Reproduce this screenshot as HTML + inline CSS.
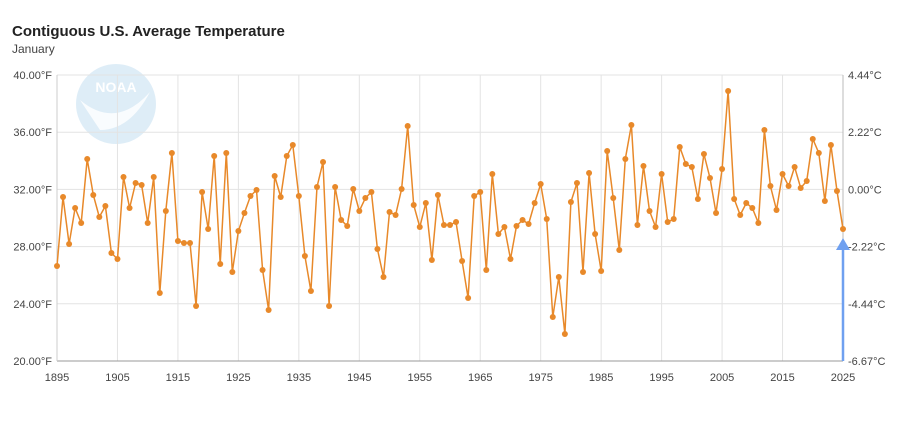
<!DOCTYPE html>
<html><head><meta charset="utf-8"><style>
body{margin:0;background:#fff;width:900px;height:429px;overflow:hidden;font-family:"Liberation Sans",sans-serif}
</style></head><body>
<svg id="s" width="900" height="429" xmlns="http://www.w3.org/2000/svg" font-family="Liberation Sans, sans-serif">
<text x="12" y="36" font-size="15" font-weight="bold" fill="#222">Contiguous U.S. Average Temperature</text>
<text x="12" y="53" font-size="12" fill="#444">January</text>
<circle cx="116" cy="104" r="40" fill="#d6e8f5" opacity="0.8"/>
<path d="M80 100 Q116 130 150 92 Q130 130 100 130 Z" fill="#fff" opacity="0.8"/>
<text x="116" y="92" font-size="14" font-weight="bold" fill="#fff" text-anchor="middle">NOAA</text>
<g id="grid" stroke="#e3e3e3" stroke-width="1"></g>
<g id="lab" font-size="11" fill="#444"></g>
<line x1="843" y1="75" x2="843" y2="361" stroke="#bbb"/>
<line x1="57" y1="361" x2="843" y2="361" stroke="#999"/>
<line x1="57" y1="75" x2="57" y2="361" stroke="#ccc"/>
<polyline id="pl" fill="none" stroke="#e8892a" stroke-width="1.5"/>
<g id="dots" fill="#e8892a"></g>
<line x1="843" y1="361" x2="843" y2="248" stroke="#6fa0f0" stroke-width="2.5"/>
<polygon points="836,250 850,250 843,238" fill="#6fa0f0"/>
</svg>
<script>
var ys=[266,197,244,208,223,159,195,217,206,253,259,177,208,183,185,223,177,293,211,153,241,243,243,306,192,229,156,264,153,272,231,213,196,190,270,310,176,197,156,145,196,256,291,187,
162,306,187,220,226,189,211,198,192,249,277,212,215,189,126,205,227,203,260,195,225,225,222,261,298,196,192,270,174,234,227,259,226,220,224,203,184,219,317,277,334,202,183,
272,173,234,271,151,198,250,159,125,225,166,211,227,174,222,219,147,164,167,199,154,178,213,169,91,199,215,203,208,223,130,186,210,174,186,167,188,181,139,153,201,145,191,229];
var ns="http://www.w3.org/2000/svg",pts=[],d=document.getElementById('dots');
for(var i=0;i<ys.length;i++){var x=57+i*786/130;pts.push(x.toFixed(1)+','+ys[i]);
var c=document.createElementNS(ns,'circle');c.setAttribute('cx',x);c.setAttribute('cy',ys[i]);c.setAttribute('r',3);d.appendChild(c);}
document.getElementById('pl').setAttribute('points',pts.join(' '));
var g=document.getElementById('grid'),l=document.getElementById('lab');
function ln(a,b,c,e){var q=document.createElementNS(ns,'line');q.setAttribute('x1',a);q.setAttribute('y1',b);q.setAttribute('x2',c);q.setAttribute('y2',e);g.appendChild(q);}
function tx(x,y,s,a){var t=document.createElementNS(ns,'text');t.setAttribute('x',x);t.setAttribute('y',y);t.setAttribute('text-anchor',a);t.textContent=s;l.appendChild(t);}
var fl=['40.00°F','36.00°F','32.00°F','28.00°F','24.00°F','20.00°F'],cl=['4.44°C','2.22°C','0.00°C','-2.22°C','-4.44°C','-6.67°C'];
for(var k=0;k<6;k++){var y=75+k*57.2;if(k<5)ln(57,y,843,y);tx(52,y+4,fl[k],'end');tx(848,y+4,cl[k],'start');}
for(var yr=1895;yr<=2025;yr+=10){var x=57+(yr-1895)*786/130;if(yr>1895&&yr<2025)ln(x,75,x,361);tx(x,381,yr,'middle');}
</script>
</body></html>
